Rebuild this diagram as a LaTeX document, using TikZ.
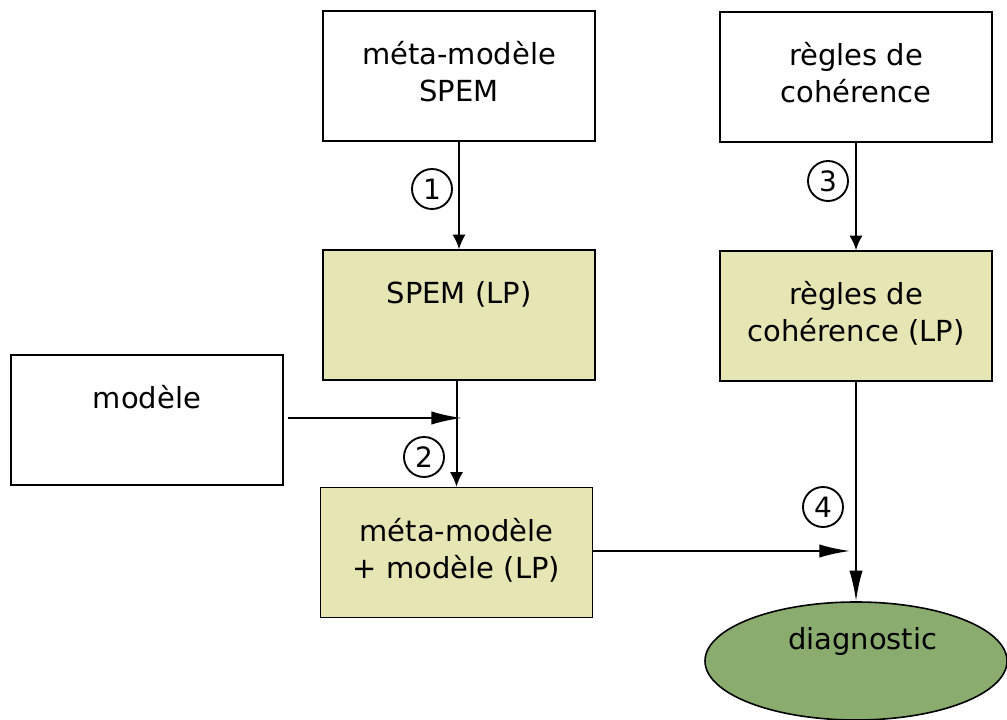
\documentclass[tikz,border=0pt]{standalone}
\usepackage{fontspec}
\setmainfont{DejaVu Sans}
\usetikzlibrary{shapes.geometric,arrows.meta}
\definecolor{lpfill}{HTML}{E6E6B4}
\definecolor{diagfill}{HTML}{8AAD6F}
\begin{document}
\begin{tikzpicture}[x=0.75pt,y=-0.75pt,
 box/.style={draw,line width=1.2pt,minimum width=204pt,minimum height=97.5pt,align=center,inner sep=0pt,font=\fontsize{21.75}{27.75}\selectfont},
 lp/.style={box,fill=lpfill},
 num/.style={draw,circle,line width=1.4pt,minimum size=30pt,inner sep=0pt,font=\fontsize{21}{21}\selectfont},
 arrs/.style={line width=1.5pt,-{Latex[length=11pt,width=10pt]}},
 arrl/.style={line width=1.6pt,-{Latex[length=23pt,width=10pt]}},
]
\useasboundingbox (0,0) rectangle (1007,720);
\node[box] (meta) at (459,76) {\strut méta-modèle\\\strut SPEM};
\node[box] (regles) at (856,77) {\strut règles de\\\strut cohérence};
\node[lp] (spemlp) at (459,315) {\strut SPEM (LP)\\\strut};
\node[lp] (regleslp) at (856,316) {\strut règles de\\\strut cohérence (LP)};
\node[box] (modele) at (147,420) {\strut modèle\\\strut};
\node[lp] (metamod) at (456.5,552.5) {\strut méta-modèle\\\strut + modèle (LP)};
\node[ellipse,draw,line width=1.2pt,fill=diagfill,minimum width=226.5pt,minimum height=88.5pt,inner sep=0pt,align=center,font=\fontsize{21.75}{27.75}\selectfont] (diag) at (856,661) {\strut\hspace{10pt}diagnostic\\\strut};
\coordinate (j2) at (462,418);
\coordinate (j4) at (850,551);
\node[num] (n1) at (432,189) {1};
\node[num] (n3) at (828,181) {3};
\node[num] (n2) at (424,457) {2};
\node[num] (n4) at (823,507) {4};
\draw[arrs] (meta) -- (spemlp);
\draw[arrs] (regles) -- (regleslp);
\draw[arrl] ([xshift=3pt]modele.east |- j2) -- (j2);
\draw[arrs] (spemlp.south -| metamod) -- (metamod.north);
\draw[arrl] (metamod.east |- j4) -- (j4);
\draw[arrl] (regleslp) -- (diag);
\end{tikzpicture}
\end{document}
